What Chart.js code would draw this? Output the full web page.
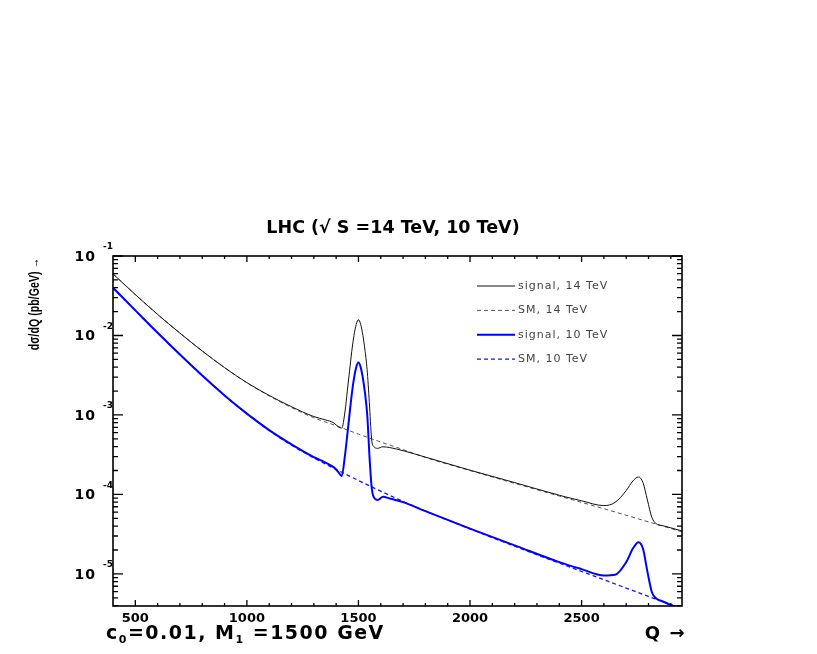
<!DOCTYPE html>
<html>
<head>
<meta charset="utf-8">
<script src="https://cdn.jsdelivr.net/npm/chart.js@4"></script>
<style>
  body { margin: 0; background: #fff; }
  #wrap { width: 817px; height: 654px; position: relative; }
</style>
</head>
<body>
<div id="wrap"><canvas id="chart"></canvas></div>
<script>
// SM background (dashed)
const qSM = [400, 500, 600, 700, 800, 900, 1000, 1100, 1200, 1300, 1400, 1500, 1600, 1700, 1800, 2000, 2200, 2400, 2600, 2800, 2950];
const sm14 = [5.96e-2, 3.27e-2, 1.84e-2, 1.07e-2, 6.38e-3, 3.94e-3, 2.54e-3, 1.74e-3, 1.24e-3, 9.23e-4, 7.33e-4, 5.75e-4, 4.57e-4, 3.67e-4, 2.92e-4, 2.0e-4, 1.38e-4, 9.55e-5, 6.61e-5, 4.52e-5, 3.39e-5];
const sm10 = [3.98e-2, 2.07e-2, 1.08e-2, 5.75e-3, 3.13e-3, 1.76e-3, 1.04e-3, 6.38e-4, 4.17e-4, 2.88e-4, 2.07e-4, 1.50e-4, 1.10e-4, 8.17e-5, 6.19e-5, 3.69e-5, 2.23e-5, 1.37e-5, 8.45e-6, 5.21e-6, 3.63e-6];

// signal (solid), finer sampling around the resonances
const qSig = [400, 500, 600, 700, 800, 900, 1000, 1100, 1200, 1300,
  1350, 1390, 1410, 1425, 1440, 1450, 1460, 1470, 1480, 1490,
  1500, 1510, 1520, 1530, 1540, 1550, 1560, 1570, 1585, 1610,
  1640, 1700, 1800, 2000, 2200, 2400, 2500, 2600, 2650, 2700,
  2730, 2755, 2775, 2795, 2815, 2835, 2860, 2900, 2950];
const sig14 = [5.96e-2, 3.27e-2, 1.84e-2, 1.07e-2, 6.38e-3, 3.94e-3, 2.55e-3, 1.76e-3, 1.27e-3, 9.55e-4,
  8.71e-4, 7.94e-4, 7.08e-4, 6.84e-4, 1.12e-3, 2.0e-3, 3.55e-3, 6.31e-3, 1.0e-2, 1.38e-2,
  1.58e-2, 1.38e-2, 1.0e-2, 6.31e-3, 3.39e-3, 1.26e-3, 4.68e-4, 3.98e-4, 3.80e-4, 3.98e-4,
  3.89e-4, 3.55e-4, 2.95e-4, 2.02e-4, 1.41e-4, 9.77e-5, 8.32e-5, 7.24e-5, 7.94e-5, 1.12e-4,
  1.48e-4, 1.66e-4, 1.41e-4, 8.51e-5, 5.13e-5, 4.27e-5, 4.07e-5, 3.80e-5, 3.47e-5];
const sig10 = [3.98e-2, 2.07e-2, 1.08e-2, 5.75e-3, 3.13e-3, 1.76e-3, 1.04e-3, 6.46e-4, 4.27e-4, 2.95e-4,
  2.54e-4, 2.19e-4, 1.91e-4, 1.70e-4, 3.16e-4, 5.62e-4, 1.02e-3, 1.82e-3, 2.88e-3, 3.98e-3,
  4.57e-3, 3.98e-3, 2.88e-3, 1.82e-3, 9.55e-4, 2.82e-4, 1.17e-4, 9.12e-5, 8.51e-5, 9.33e-5,
  8.91e-5, 8.0e-5, 6.17e-5, 3.72e-5, 2.29e-5, 1.41e-5, 1.15e-5, 9.55e-6, 9.77e-6, 1.41e-5,
  2.09e-5, 2.51e-5, 2.09e-5, 1.07e-5, 5.89e-6, 4.90e-6, 4.57e-6, 4.07e-6, 3.63e-6];

const xTickLabels = [500, 1000, 1500, 2000, 2500];
const yTickValues = [1e-1, 1e-2, 1e-3, 1e-4, 1e-5];
const yTickExps = ['-1', '-2', '-3', '-4', '-5'];
const seriesLabels = ['signal, 14 TeV', 'SM, 14 TeV', 'signal, 10 TeV', 'SM, 10 TeV'];

const xMin = 400, xMax = 2950;
const yMin = 3.95e-6, yMax = 0.1;

const pts = (qs, vs) => qs.map((q, i) => ({ x: q, y: vs[i] }));

// frame, inside ticks, texts and legend in the old ROOT style
const decoration = {
  id: 'decoration',
  afterDraw(chart) {
    const { ctx, chartArea: a } = chart;
    const xs = chart.scales.x, ys = chart.scales.y;
    ctx.save();
    ctx.strokeStyle = '#000';
    ctx.lineWidth = 1.6;
    ctx.strokeRect(a.left, a.top, a.right - a.left, a.bottom - a.top);

    ctx.lineWidth = 1.3;
    ctx.beginPath();
    for (let q = 500; q < xMax; q += 100) {
      const px = xs.getPixelForValue(q);
      const len = q % 500 === 0 ? 6 : 3;
      ctx.moveTo(px, a.bottom); ctx.lineTo(px, a.bottom - len);
      ctx.moveTo(px, a.top); ctx.lineTo(px, a.top + len);
    }
    for (let e = -6; e <= -1; e++) {
      for (let m = 1; m <= 9; m++) {
        const v = m * Math.pow(10, e);
        if (v < yMin || v > yMax * 1.0001) continue;
        const py = ys.getPixelForValue(v);
        const len = m === 1 ? 10 : 5;
        ctx.moveTo(a.left, py); ctx.lineTo(a.left + len, py);
        ctx.moveTo(a.right, py); ctx.lineTo(a.right - len, py);
      }
    }
    ctx.stroke();

    // y tick labels with exponents
    ctx.fillStyle = '#000';
    yTickValues.forEach((v, i) => {
      const py = ys.getPixelForValue(v);
      ctx.letterSpacing = '1px';
      ctx.font = 'bold 14px "DejaVu Sans"';
      ctx.textAlign = 'right';
      ctx.textBaseline = 'middle';
      ctx.fillText('10', 96, py + 1);
      ctx.letterSpacing = '0px';
      ctx.font = 'bold 9px "DejaVu Sans"';
      ctx.textAlign = 'left';
      ctx.fillText(yTickExps[i], 103, py - 9);
    });

    // title
    ctx.letterSpacing = '0px';
    ctx.font = 'bold 17.5px "DejaVu Sans"';
    ctx.textAlign = 'center';
    ctx.textBaseline = 'alphabetic';
    ctx.fillText('LHC (\u221A S =14 TeV, 10 TeV)', 393, 233);

    // y axis title
    ctx.save();
    ctx.translate(35, 304);
    ctx.rotate(-Math.PI / 2);
    ctx.scale(0.76, 1);
    ctx.font = 'bold 14px "Liberation Sans"';
    ctx.textAlign = 'center';
    ctx.textBaseline = 'middle';
    ctx.fillText('d\u03C3/dQ (pb/GeV) \u2192', 0, 0);
    ctx.restore();

    // bottom texts
    ctx.textAlign = 'left';
    ctx.textBaseline = 'alphabetic';
    let x = 106;
    const base = 639;
    const put = (t, size, dy) => {
      ctx.font = 'bold ' + size + 'px "DejaVu Sans"';
      ctx.fillText(t, x, base + dy);
      x += ctx.measureText(t).width;
    };
    ctx.letterSpacing = '1.5px';
    put('c', 19, 0);
    put('0', 11, 4);
    put('=0.01, M', 19, 0);
    put('1', 11, 4);
    put(' =1500 GeV', 19, 0);
    ctx.font = 'bold 18px "DejaVu Sans"';
    ctx.textAlign = 'right';
    ctx.fillText('Q \u2192', 686, base);

    // legend
    ctx.letterSpacing = '1px';
    ctx.font = '11px "DejaVu Sans"';
    ctx.textAlign = 'left';
    ctx.textBaseline = 'middle';
    chart.data.datasets.forEach((ds, i) => {
      const ly = 286 + i * 24.4;
      ctx.save();
      ctx.strokeStyle = ds.borderColor;
      ctx.lineWidth = ds.borderWidth;
      ctx.setLineDash(ds.borderDash || []);
      ctx.beginPath();
      ctx.moveTo(477, ly); ctx.lineTo(515, ly);
      ctx.stroke();
      ctx.restore();
      ctx.fillStyle = '#444';
      ctx.fillText(ds.label, 518, ly);
    });
    ctx.restore();
  }
};

new Chart(document.getElementById('chart'), {
  type: 'line',
  data: {
    datasets: [
      { label: seriesLabels[0], data: pts(qSig, sig14), borderColor: '#111', borderWidth: 1 },
      { label: seriesLabels[1], data: pts(qSM, sm14), borderColor: '#555', borderWidth: 1, borderDash: [4, 3] },
      { label: seriesLabels[2], data: pts(qSig, sig10), borderColor: '#0000ff', borderWidth: 2 },
      { label: seriesLabels[3], data: pts(qSM, sm10), borderColor: '#1515ff', borderWidth: 1.3, borderDash: [4, 3] }
    ]
  },
  options: {
    responsive: true,
    maintainAspectRatio: false,
    animation: false,
    layout: { padding: { left: 113, top: 256, right: 135, bottom: 18 } },
    elements: {
      point: { radius: 0 },
      line: { cubicInterpolationMode: 'monotone', fill: false }
    },
    plugins: { legend: { display: false }, tooltip: { enabled: false } },
    scales: {
      x: {
        type: 'linear',
        min: xMin,
        max: xMax,
        afterBuildTicks: (s) => { s.ticks = xTickLabels.map((v) => ({ value: v })); },
        afterFit: (s) => { s.height = 30; },
        ticks: {
          color: '#000',
          font: { family: 'DejaVu Sans', weight: 'bold', size: 13 },
          padding: 5,
          maxRotation: 0,
          autoSkip: false,
          callback: (v) => String(v)
        },
        grid: { display: false, drawTicks: false },
        border: { display: false }
      },
      y: {
        type: 'logarithmic',
        display: false,
        min: yMin,
        max: yMax
      }
    }
  },
  plugins: [decoration]
});
</script>
</body>
</html>
